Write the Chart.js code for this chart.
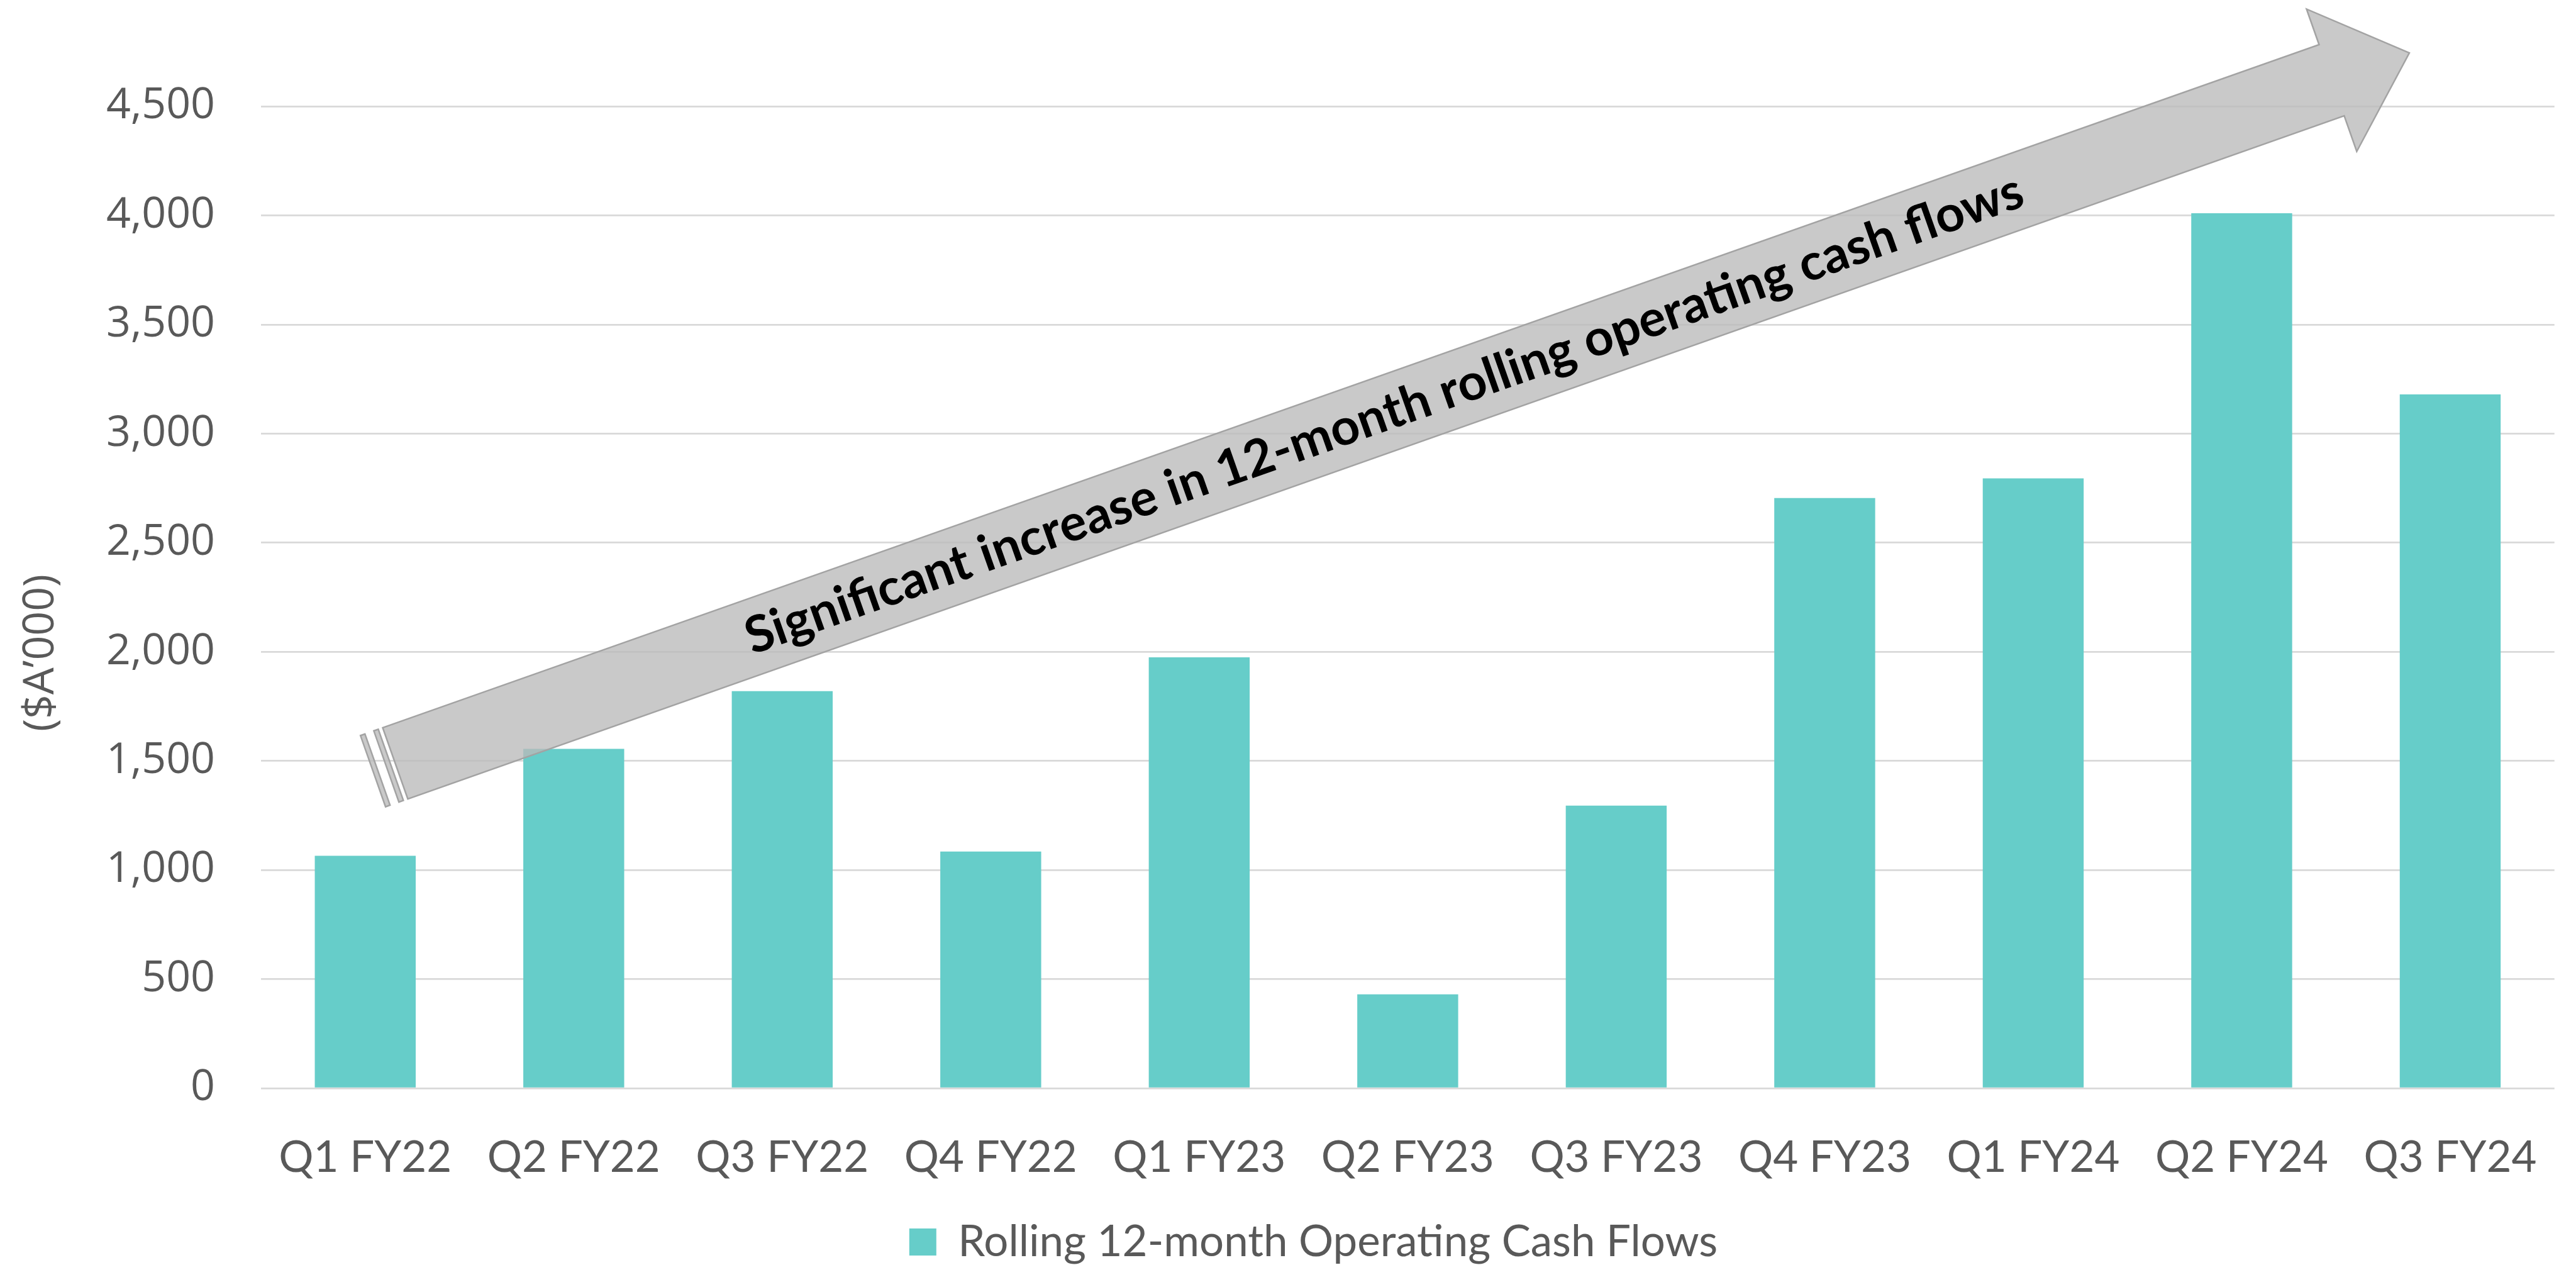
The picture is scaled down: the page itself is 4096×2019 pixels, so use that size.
<!DOCTYPE html>
<html>
<head>
<meta charset="utf-8">
<script src="https://cdn.jsdelivr.net/npm/chart.js@4.4.1/dist/chart.umd.min.js"></script>
<style>
  html, body { margin: 0; padding: 0; background: #fff; }
  #wrap { width: 4096px; height: 2019px; }
</style>
</head>
<body>
<div id="wrap"><canvas id="myChart"></canvas></div>
<script>
const quarters = ['Q1 FY22', 'Q2 FY22', 'Q3 FY22', 'Q4 FY22', 'Q1 FY23', 'Q2 FY23',
  'Q3 FY23', 'Q4 FY23', 'Q1 FY24', 'Q2 FY24', 'Q3 FY24'];
const cashFlows = [1065, 1555, 1820, 1085, 1975, 430, 1295, 2705, 2795, 4010, 3180];
const yTicks = [0, 500, 1000, 1500, 2000, 2500, 3000, 3500, 4000, 4500];
const seriesName = 'Rolling 12-month Operating Cash Flows';
const axisTitle = '($A\u2019000)';
const arrowText = 'Significant increase in 12-month rolling operating cash flows';
// arrow tail (start of body) and tip, in category index / value units
const arrowFrom = [0.144, 1489];
const arrowTo = [9.804, 4745];

const grey = '#595959';

// the big striped arrow drawn over the bars
const arrowPlugin = {
  id: 'trendArrow',
  afterDatasetsDraw(chart) {
    const ctx = chart.ctx;
    const xs = chart.scales.x, ys = chart.scales.y;
    const x0 = xs.getPixelForValue(arrowFrom[0]), y0 = ys.getPixelForValue(arrowFrom[1]);
    const x1 = xs.getPixelForValue(arrowTo[0]), y1 = ys.getPixelForValue(arrowTo[1]);
    const len = Math.hypot(x1 - x0, y1 - y0);
    const ang = Math.atan2(y1 - y0, x1 - x0);
    const hw = 60, hh = 120, hl = 131;
    const ss = hh * 2;
    ctx.save();
    ctx.translate(x0, y0);
    ctx.rotate(ang);
    ctx.fillStyle = 'rgba(186,186,186,0.78)';
    ctx.strokeStyle = '#a3a3a3';
    ctx.lineWidth = 2.5;
    ctx.lineJoin = 'miter';
    ctx.beginPath();
    ctx.moveTo(0, -hw);
    ctx.lineTo(len - hl, -hw);
    ctx.lineTo(len - hl, -hh);
    ctx.lineTo(len, 0);
    ctx.lineTo(len - hl, hh);
    ctx.lineTo(len - hl, hw);
    ctx.lineTo(0, hw);
    ctx.closePath();
    ctx.fill();
    ctx.stroke();
    // stripes at the tail
    [[-5 * ss / 32, -ss / 8], [-ss / 16, -ss / 32]].forEach(([a, b]) => {
      ctx.beginPath();
      ctx.rect(a, -hw, b - a, hw * 2);
      ctx.fill();
      ctx.stroke();
    });
    // label along the arrow
    ctx.fillStyle = '#000';
    ctx.font = 'bold 100px Lato';
    const w = ctx.measureText(arrowText).width;
    const size = 100 * 2149 / w;
    ctx.font = 'bold ' + size.toFixed(1) + 'px Lato';
    ctx.textAlign = 'center';
    ctx.textBaseline = 'middle';
    ctx.fillText(arrowText, len * 0.491, 0);
    ctx.restore();
  }
};

// rotated y axis title, placed like the original
const yTitlePlugin = {
  id: 'yTitle',
  afterDraw(chart) {
    const ctx = chart.ctx;
    ctx.save();
    ctx.translate(66, 1038);
    ctx.rotate(-Math.PI / 2);
    ctx.font = '68px "Open Sans"';
    ctx.fillStyle = grey;
    ctx.textAlign = 'center';
    ctx.textBaseline = 'middle';
    ctx.fillText(axisTitle, 0, 0);
    ctx.restore();
  }
};

const legendShift = {
  id: 'legendShift',
  afterLayout(chart) {
    chart.legend.left += 57;
    chart.legend.right += 57;
  }
};

const ctx = document.getElementById('myChart');

new Chart(ctx, {
  type: 'bar',
  data: {
    labels: quarters,
    datasets: [{
      label: seriesName,
      data: cashFlows,
      backgroundColor: '#66cdc9',
      borderWidth: 0,
      barPercentage: 0.484,
      categoryPercentage: 1.0
    }]
  },
  options: {
    responsive: true,
    maintainAspectRatio: false,
    animation: false,
    devicePixelRatio: 1,
    layout: {
      padding: { top: 169, right: 33, left: 0, bottom: 0 }
    },
    scales: {
      x: {
        grid: { display: false },
        border: { display: false },
        ticks: {
          color: grey,
          font: { family: 'Lato', size: 69 },
          padding: 61,
          maxRotation: 0,
          autoSkip: false
        },
        afterFit(scale) { scale.height = 200; }
      },
      y: {
        min: 0,
        max: 4500,
        grid: { color: '#d9d9d9', lineWidth: 2.7, drawTicks: false },
        border: { display: false },
        afterBuildTicks(scale) { scale.ticks = yTicks.map(v => ({ value: v })); },
        ticks: {
          color: grey,
          font: { family: 'Open Sans', size: 68 },
          padding: 73,
          callback: v => v.toLocaleString('en-US')
        },
        afterFit(scale) { scale.width = 415; }
      }
    },
    plugins: {
      legend: {
        position: 'bottom',
        labels: {
          color: grey,
          font: { family: 'Lato', size: 69 },
          boxWidth: 43,
          boxHeight: 43,
          padding: 10
        }
      },
      tooltip: { enabled: false }
    }
  },
  plugins: [arrowPlugin, yTitlePlugin, legendShift]
});
</script>
</body>
</html>
